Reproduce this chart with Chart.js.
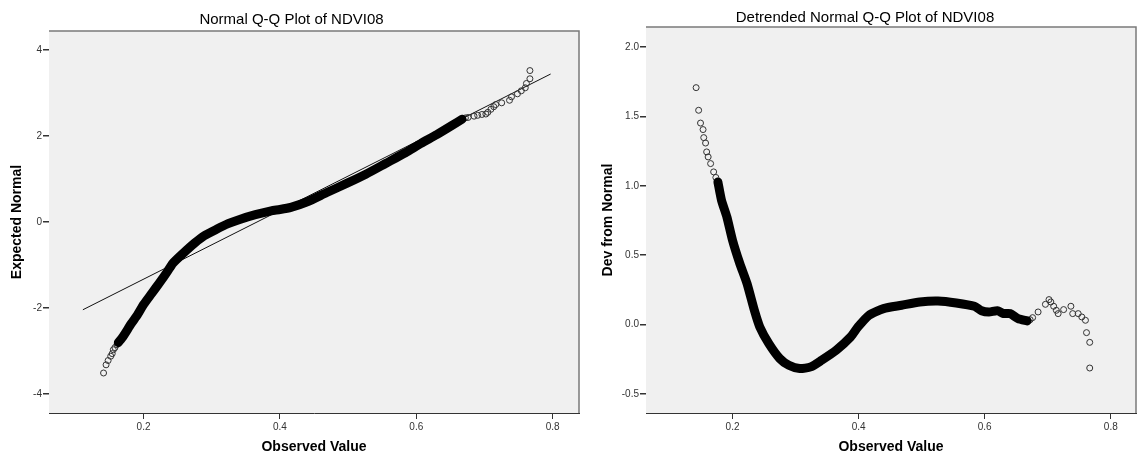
<!DOCTYPE html>
<html>
<head>
<meta charset="utf-8">
<script src="https://cdn.jsdelivr.net/npm/chart.js@4/dist/chart.umd.min.js"></script>
<style>
  html, body { margin: 0; padding: 0; background: #fff; }
  body { width: 1137px; height: 462px; position: relative; overflow: hidden; }
  .panel { position: absolute; top: 0; height: 462px; }
  #qqWrap { left: 0; width: 584px; }
  #dtWrap { left: 590px; width: 551px; }
</style>
</head>
<body>
<div class="panel" id="qqWrap"><canvas id="qqChart"></canvas></div>
<div class="panel" id="dtWrap"><canvas id="dtChart"></canvas></div>
<script>
// Normal Q-Q plot: observed value vs expected normal
const qqLowX = [0.1413, 0.145, 0.148, 0.1518, 0.154, 0.1556, 0.158, 0.161];
const qqLowZ = [-3.51, -3.32, -3.22, -3.12, -3.06, -2.97, -2.92, -2.85];
const qqBandX = [0.163, 0.170, 0.182, 0.191, 0.200, 0.212, 0.223, 0.235, 0.243, 0.258, 0.275, 0.289, 0.307, 0.324, 0.341, 0.364, 0.387, 0.400, 0.416, 0.440, 0.468, 0.497, 0.526, 0.555, 0.584, 0.607, 0.630, 0.653, 0.667];
const qqBandZ = [-2.80, -2.66, -2.36, -2.16, -1.92, -1.66, -1.42, -1.15, -0.96, -0.73, -0.49, -0.32, -0.17, -0.04, 0.06, 0.17, 0.26, 0.29, 0.34, 0.47, 0.68, 0.89, 1.11, 1.36, 1.61, 1.83, 2.03, 2.25, 2.39];
const qqHighX = [0.672, 0.676, 0.6847, 0.690, 0.6963, 0.702, 0.7049, 0.7094, 0.7136, 0.7165, 0.7252, 0.7367, 0.7396, 0.7483, 0.754, 0.7598, 0.7615, 0.7666, 0.7666];
const qqHighZ = [2.42, 2.43, 2.46, 2.48, 2.50, 2.51, 2.55, 2.62, 2.68, 2.73, 2.77, 2.83, 2.91, 2.98, 3.05, 3.12, 3.22, 3.33, 3.52];
const refLineX = [0.111, 0.797];
const refLineZ = [-2.04, 3.44];

// Detrended Q-Q plot: observed value vs deviation from normal
const dtLowX = [0.1422, 0.1462, 0.1492, 0.1532, 0.1543, 0.1572, 0.1589, 0.1613, 0.1652, 0.170, 0.1735];
const dtLowDev = [1.707, 1.544, 1.452, 1.405, 1.347, 1.308, 1.244, 1.208, 1.160, 1.100, 1.06];
const dtBandX = [0.1768, 0.1825, 0.191, 0.200, 0.2115, 0.223, 0.2346, 0.2432, 0.2576, 0.275, 0.2893, 0.3066, 0.324, 0.3412, 0.3644, 0.3874, 0.399, 0.4163, 0.4395, 0.4682, 0.497, 0.526, 0.5549, 0.5837, 0.595, 0.6068, 0.620, 0.630, 0.640, 0.653, 0.6674];
const dtBandDev = [1.027, 0.895, 0.775, 0.607, 0.44, 0.295, 0.103, -0.017, -0.137, -0.245, -0.293, -0.317, -0.305, -0.257, -0.185, -0.089, -0.017, 0.067, 0.115, 0.139, 0.163, 0.170, 0.156, 0.132, 0.10, 0.091, 0.10, 0.08, 0.08, 0.043, 0.026];
const dtHighX = [0.672, 0.676, 0.6847, 0.6963, 0.702, 0.7049, 0.7094, 0.7136, 0.7165, 0.7252, 0.7367, 0.7396, 0.7483, 0.754, 0.7598, 0.7615, 0.7666, 0.7666];
const dtHighDev = [0.035, 0.05, 0.091, 0.146, 0.18, 0.163, 0.132, 0.103, 0.079, 0.108, 0.132, 0.079, 0.079, 0.055, 0.031, -0.058, -0.128, -0.313];

// tick labels
const xTicks = [0.2, 0.4, 0.6, 0.8];
const qqYTicks = [-4, -2, 0, 2, 4];
const dtYTicks = [-0.5, 0.0, 0.5, 1.0, 1.5, 2.0];

const FONT = '"Liberation Sans", Arial, sans-serif';

function pts(xs, ys) {
    return xs.map(function (x, i) { return { x: x, y: ys[i] }; });
}

// light grey plot area with a grey frame on top and right
const plotFrame = {
    id: 'plotFrame',
    beforeDatasetsDraw: function (chart) {
        const a = chart.chartArea;
        const ctx = chart.ctx;
        ctx.save();
        ctx.fillStyle = '#f0f0f0';
        ctx.fillRect(a.left, a.top, a.right - a.left, a.bottom - a.top);
        ctx.restore();
    },
    afterDraw: function (chart) {
        const a = chart.chartArea;
        const ctx = chart.ctx;
        ctx.save();
        ctx.strokeStyle = '#7a7a7a';
        ctx.lineWidth = 1.5;
        ctx.beginPath();
        ctx.moveTo(a.left, a.top);
        ctx.lineTo(a.right, a.top);
        ctx.lineTo(a.right, a.bottom);
        ctx.stroke();
        ctx.restore();
    }
};

function bandSet(data) {
    return {
        data: data, showLine: true, borderColor: '#000', borderWidth: 9,
        borderCapStyle: 'round', borderJoinStyle: 'round', pointRadius: 0, tension: 0.2
    };
}
function circleSet(data) {
    return {
        data: data, showLine: false, pointRadius: 3, pointBorderWidth: 1,
        pointBorderColor: '#333', pointBackgroundColor: 'rgba(0,0,0,0)'
    };
}

function makeOptions(o) {
    return {
        responsive: true,
        maintainAspectRatio: false,
        animation: false,
        events: [],
        layout: { padding: { left: 0, right: 1, top: 0, bottom: 0 } },
        plugins: {
            legend: { display: false },
            tooltip: { enabled: false },
            title: {
                display: true, text: o.title, color: '#000',
                font: { family: FONT, size: 15, weight: 'normal' },
                padding: o.titlePad
            }
        },
        scales: {
            x: {
                type: 'linear', min: o.xMin, max: o.xMax,
                afterBuildTicks: function (s) { s.ticks = xTicks.map(function (v) { return { value: v }; }); },
                afterFit: function (s) { s.height = 49; },
                ticks: { callback: function (v) { return v.toFixed(1); }, color: '#333', padding: 2, font: { family: FONT, size: 10 }, maxRotation: 0 },
                grid: { drawOnChartArea: false, tickLength: 6, tickColor: '#333' },
                border: { color: '#333', width: 1 },
                title: { display: true, text: 'Observed Value', color: '#000', font: { family: FONT, size: 14, weight: 'bold' }, padding: { top: 0, bottom: 6 } }
            },
            y: {
                type: 'linear', min: o.yMin, max: o.yMax,
                afterBuildTicks: function (s) { s.ticks = o.yTicks.map(function (v) { return { value: v }; }); },
                afterFit: function (s) { s.width = o.yWidth; },
                ticks: { callback: o.yFmt, color: '#333', padding: 1, font: { family: FONT, size: 10 } },
                grid: {
                    drawOnChartArea: o.zeroLine, tickLength: 6, tickColor: '#333',
                    color: function (c) { return (o.zeroLine && c.tick && c.tick.value === 0) ? '#5a5a5a' : 'rgba(0,0,0,0)'; },
                    lineWidth: 1.5
                },
                border: { color: '#333', width: 1 },
                title: { display: true, text: o.yTitle, color: '#000', font: { family: FONT, size: 14, weight: 'bold' }, padding: { top: o.yTitlePad, bottom: 0 } }
            }
        }
    };
}

window.addEventListener('DOMContentLoaded', function () {
    new Chart(document.getElementById('qqChart').getContext('2d'), {
        type: 'scatter',
        data: {
            datasets: [
                bandSet(pts(qqBandX, qqBandZ)),
                circleSet(pts(qqLowX, qqLowZ)),
                circleSet(pts(qqHighX, qqHighZ)),
                { data: pts(refLineX, refLineZ), showLine: true, borderColor: '#111', borderWidth: 1, pointRadius: 0 }
            ]
        },
        options: makeOptions({
            title: 'Normal Q-Q Plot of NDVI08', titlePad: { top: 10.5, bottom: 2.5 },
            xMin: 0.0613, xMax: 0.8386, yMin: -4.44, yMax: 4.44,
            yTicks: qqYTicks, yFmt: function (v) { return String(v); },
            yWidth: 49, yTitle: 'Expected Normal', yTitlePad: 8.3, zeroLine: false
        }),
        plugins: [plotFrame]
    });

    new Chart(document.getElementById('dtChart').getContext('2d'), {
        type: 'scatter',
        data: {
            datasets: [
                bandSet(pts(dtBandX, dtBandDev)),
                circleSet(pts(dtLowX, dtLowDev)),
                circleSet(pts(dtHighX, dtHighDev))
            ]
        },
        options: makeOptions({
            title: 'Detrended Normal Q-Q Plot of NDVI08', titlePad: { top: 8.5, bottom: 0.5 },
            xMin: 0.0627, xMax: 0.840, yMin: -0.637, yMax: 2.144,
            yTicks: dtYTicks, yFmt: function (v) { return v.toFixed(1); },
            yWidth: 56, yTitle: 'Dev from Normal', yTitlePad: 9.6, zeroLine: true
        }),
        plugins: [plotFrame]
    });
});
</script>
</body>
</html>
